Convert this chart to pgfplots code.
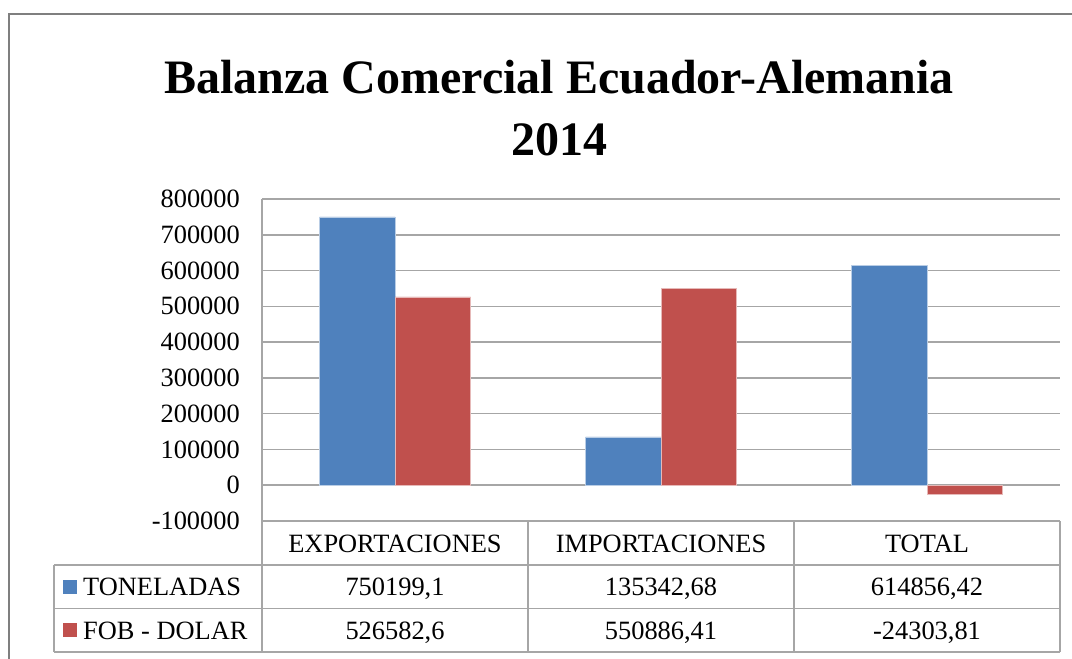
\documentclass[border=0pt]{standalone}
\usepackage{fontspec}
\setmainfont{Liberation Serif}
\usepackage{pgfplots}
\pgfplotsset{compat=1.18}
\definecolor{cblue}{HTML}{4F81BD}
\definecolor{cred}{HTML}{C0504D}
\definecolor{gridc}{HTML}{A6A6A6}
\definecolor{framec}{HTML}{7F7F7F}
\begin{document}
\begin{tikzpicture}[x=1pt,y=1pt]
\path[use as bounding box] (0,0) rectangle (1072,-659);
\draw[framec, line width=2pt] (9,-659) -- (9,-14) -- (1072,-14);
\node[anchor=base, font=\fontsize{48}{58}\selectfont\bfseries] at (559,-93) {Balanza Comercial Ecuador-Alemania};
\node[anchor=base, font=\fontsize{48}{58}\selectfont\bfseries] at (559,-155) {2014};
\begin{axis}[
  at={(262pt,-521pt)}, anchor=south west,
  scale only axis, width=798pt, height=322pt,
  xmin=-0.5, xmax=2.5, ymin=-100000, ymax=800000,
  ytick={-100000,0,100000,200000,300000,400000,500000,600000,700000,800000},
  xtick=\empty,
  scaled y ticks=false,
  ymajorgrids, grid style={gridc, line width=1.5pt},
  axis line style={draw=none},
  major tick length=0pt,
  clip=false,
  /pgf/number format/assume math mode=true,
  yticklabel style={/pgf/number format/fixed, /pgf/number format/1000 sep={}, anchor=east, inner sep=0pt, xshift=-22pt, font=\fontsize{26.4}{30}\selectfont},
]
\addplot[ybar, bar width=75.5pt, bar shift=-37.75pt, fill=cblue, draw=white!60!cblue, line width=0.6pt] coordinates {(0,750199.1) (1,135342.68) (2,614856.42)};
\addplot[ybar, bar width=75.5pt, bar shift=37.75pt, fill=cred, draw=white!60!cred, line width=0.6pt] coordinates {(0,526582.6) (1,550886.41) (2,-24303.81)};
\end{axis}
% data table
\begin{scope}[gridc, line width=1.5pt]
\draw (262,-199) -- (262,-652);
\draw (262,-521) -- (1060,-521);
\draw (54,-565) -- (1060,-565);
\draw (54,-608.5) -- (1060,-608.5);
\draw (54,-652) -- (1060,-652);
\draw (54,-565) -- (54,-652);
\draw (528,-521) -- (528,-652);
\draw (794,-521) -- (794,-652);
\draw (1060,-521) -- (1060,-652);
\end{scope}
\begin{scope}[every node/.style={anchor=base, inner sep=0pt, font=\fontsize{26.4}{30}\selectfont}]
\node at (395,-552) {EXPORTACIONES};
\node at (661,-552) {IMPORTACIONES};
\node at (927,-552) {TOTAL};
\node at (395,-595) {750199,1};
\node at (661,-595) {135342,68};
\node at (927,-595) {614856,42};
\node at (395,-639) {526582,6};
\node at (661,-639) {550886,41};
\node at (927,-639) {-24303,81};
\node[anchor=base west] at (83,-595) {TONELADAS};
\node[anchor=base west] at (83,-639) {FOB - DOLAR};
\end{scope}
\fill[cblue] (63,-579.5) rectangle (77,-593.5);
\fill[cred] (63,-623) rectangle (77,-637);
\end{tikzpicture}
\end{document}
